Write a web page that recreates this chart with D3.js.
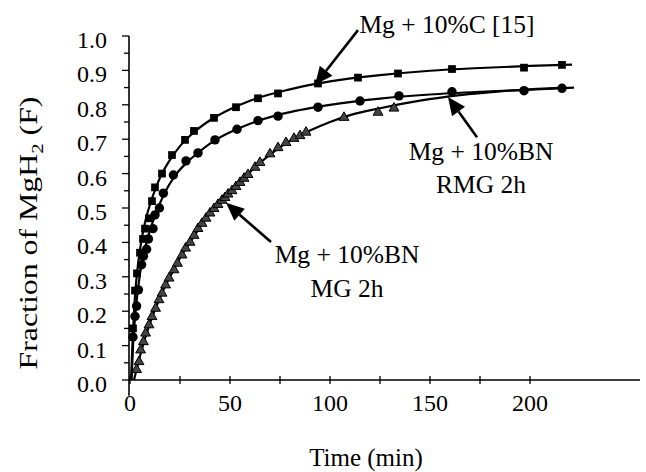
<!DOCTYPE html>
<html><head><meta charset="utf-8">
<script src="https://cdn.jsdelivr.net/npm/d3@7"></script>
<style>html,body{margin:0;padding:0;background:#fff}svg{display:block}</style>
</head><body>
<svg id="chart" width="646" height="472"></svg>
<script>
// ---------- data ----------
// Mg + 10%C [15]  (squares)
const cTime = [1.5, 2.5, 3.5, 5, 6.5, 7.5, 9.5, 11, 12.5, 16, 21, 27.5, 32, 42, 53, 64, 74, 94, 114, 134, 161, 197, 216];
const cFrac = [0.15, 0.26, 0.31, 0.37, 0.41, 0.44, 0.47, 0.52, 0.56, 0.60, 0.654, 0.698, 0.724, 0.762, 0.793, 0.819, 0.833, 0.862, 0.879, 0.891, 0.904, 0.908, 0.916];
const cFitTime = [0.5, 1, 2, 3, 4, 6, 8, 10, 13, 16, 20, 25, 30, 40, 50, 60, 80, 100, 125, 150, 175, 200, 221];
const cFitFrac = [0.0, 0.07, 0.2, 0.28, 0.335, 0.415, 0.47, 0.51, 0.56, 0.60, 0.64, 0.68, 0.71, 0.755, 0.787, 0.812, 0.845, 0.868, 0.886, 0.899, 0.907, 0.913, 0.917];

// Mg + 10%BN RMG 2h  (circles)
const rTime = [1.5, 2.5, 3.3, 4.2, 5.8, 6.7, 8.3, 9.2, 11.5, 12.5, 14.7, 16.7, 21.7, 28, 34, 42.5, 53.5, 64, 74, 94, 115, 134.5, 161, 197, 216];
const rFrac = [0.125, 0.185, 0.215, 0.262, 0.335, 0.36, 0.38, 0.41, 0.44, 0.48, 0.50, 0.543, 0.596, 0.637, 0.66, 0.698, 0.729, 0.754, 0.767, 0.793, 0.811, 0.826, 0.838, 0.841, 0.848];
const rFitTime = [0.8, 1.5, 2.5, 4, 6, 8, 10, 13, 17, 22, 28, 35, 42, 50, 60, 75, 100, 125, 150, 175, 200, 222];
const rFitFrac = [0.0, 0.1, 0.18, 0.265, 0.345, 0.395, 0.435, 0.485, 0.54, 0.59, 0.63, 0.665, 0.695, 0.72, 0.745, 0.772, 0.8, 0.818, 0.83, 0.838, 0.844, 0.85];

// Mg + 10%BN MG 2h  (triangles)
const mTime = [3.3, 4.5, 5.3, 6.7, 7.8, 9.5, 11, 12.8, 14.5, 16, 17.8, 19.5, 22, 23.7, 26, 27.8, 30, 32, 34, 36, 38, 40, 42, 44, 46, 47.5, 49, 51, 53, 55, 57, 59, 62.5, 65, 70, 74, 78, 82, 85, 88, 107, 124, 132];
const mFrac = [0.03, 0.053, 0.087, 0.111, 0.136, 0.16, 0.184, 0.208, 0.233, 0.252, 0.276, 0.296, 0.32, 0.339, 0.363, 0.383, 0.40, 0.42, 0.44, 0.455, 0.47, 0.485, 0.498, 0.51, 0.522, 0.53, 0.54, 0.55, 0.562, 0.574, 0.586, 0.597, 0.618, 0.632, 0.657, 0.675, 0.69, 0.702, 0.71, 0.72, 0.763, 0.778, 0.79];
const mFitTime = [2, 5, 10, 15, 20, 25, 30, 40, 50, 60, 70, 80, 90, 100, 110, 125, 145, 165, 185, 200, 218];
const mFitFrac = [0.0, 0.07, 0.165, 0.24, 0.3, 0.355, 0.40, 0.485, 0.55, 0.605, 0.655, 0.695, 0.725, 0.75, 0.77, 0.79, 0.812, 0.828, 0.839, 0.845, 0.85];

// ticks
const xTickValues = [0, 50, 100, 150, 200];
const xTickLabels = ["0", "50", "100", "150", "200"];
const xMinorTicks = [25, 75, 125, 175];
const yTickValues = [0, 0.1, 0.2, 0.3, 0.4, 0.5, 0.6, 0.7, 0.8, 0.9, 1.0];
const yTickLabels = ["0.0", "0.1", "0.2", "0.3", "0.4", "0.5", "0.6", "0.7", "0.8", "0.9", "1.0"];
const yMinorTicks = [0.05, 0.15, 0.25, 0.35, 0.45, 0.55, 0.65, 0.75, 0.85, 0.95];

// labels
const labelC = ["Mg + 10%C [15]"];
const labelR = ["Mg + 10%BN", "RMG 2h"];
const labelM = ["Mg + 10%BN", "MG 2h"];

// ---------- drawing ----------
const FONT = "'Liberation Serif', 'Times New Roman', serif";
const svg = d3.select("#chart");
svg.append("rect").attr("width", 646).attr("height", 472).attr("fill", "#fff");

const x = d3.scaleLinear().domain([0, 250]).range([130, 630]);
const y = d3.scaleLinear().domain([0, 1]).range([380, 36]);

// axes
const ax = svg.append("g").attr("stroke", "#000").attr("fill", "none");
ax.append("line").attr("x1", x(0) - 1).attr("x2", x(255)).attr("y1", y(0)).attr("y2", y(0)).attr("stroke-width", 1.6);
ax.append("line").attr("x1", x(0) - 1).attr("x2", x(0) - 1).attr("y1", y(1)).attr("y2", y(-0.046)).attr("stroke-width", 1.6);

// x ticks (crossing)
ax.selectAll(".xt").data(xTickValues.concat(xMinorTicks)).join("line")
  .attr("x1", d => x(d)).attr("x2", d => x(d))
  .attr("y1", y(0) - 4).attr("y2", y(0) + 4).attr("stroke-width", 1.3);
// y ticks (outward)
ax.selectAll(".ytM").data(yTickValues).join("line")
  .attr("x1", x(0) - 8).attr("x2", x(0) - 1)
  .attr("y1", d => y(d)).attr("y2", d => y(d)).attr("stroke-width", 1.3);
ax.selectAll(".ytm").data(yMinorTicks).join("line")
  .attr("x1", x(0) - 6).attr("x2", x(0) - 1)
  .attr("y1", d => y(d)).attr("y2", d => y(d)).attr("stroke-width", 1.3);

// tick labels
svg.append("g").selectAll("text").data(xTickValues).join("text")
  .attr("x", d => x(d)).attr("y", y(0) + 31)
  .attr("text-anchor", "middle").attr("font-family", FONT).attr("font-size", 24)
  .text((d, i) => xTickLabels[i]);
svg.append("g").selectAll("text").data(yTickValues).join("text")
  .attr("x", 107).attr("y", d => y(d) + 4)
  .attr("text-anchor", "end").attr("dominant-baseline", "central")
  .attr("font-family", FONT).attr("font-size", 24)
  .text((d, i) => yTickLabels[i]);

// axis titles
svg.append("text").attr("x", 366).attr("y", 466).attr("text-anchor", "middle")
  .attr("font-family", FONT).attr("font-size", 25).text("Time (min)");

const yt = svg.append("g").attr("transform", "translate(37,233) rotate(-90)");
const ytText = yt.append("text").attr("text-anchor", "middle")
  .attr("font-family", FONT).attr("font-size", 26);
ytText.append("tspan").text("Fraction of MgH");
ytText.append("tspan").attr("font-size", 17).attr("dy", 6).text("2");
ytText.append("tspan").attr("dy", -6).text(" (F)");
const w = ytText.node().getComputedTextLength();
ytText.attr("transform", `scale(${273 / w},1)`);

// fit curves
const line = d3.line().x(d => x(d[0])).y(d => y(d[1])).curve(d3.curveMonotoneX);
const fits = [[cFitTime, cFitFrac], [rFitTime, rFitFrac], [mFitTime, mFitFrac]];
fits.forEach(([t, f]) => {
  svg.append("path").datum(t.map((v, i) => [v, f[i]]))
    .attr("d", line).attr("fill", "none").attr("stroke", "#000").attr("stroke-width", 2.2);
});

// markers
const sq = d3.symbol().type(d3.symbolSquare).size(60);
const ci = d3.symbol().type(d3.symbolCircle).size(70);
const tr = d3.symbol().type(d3.symbolTriangle).size(42);
svg.append("g").selectAll("path").data(mTime.map((t, i) => [t, mFrac[i]])).join("path")
  .attr("d", tr).attr("transform", d => `translate(${x(d[0])},${y(d[1])})`)
  .attr("fill", "#444").attr("stroke", "#000").attr("stroke-width", 1);
svg.append("g").selectAll("path").data(rTime.map((t, i) => [t, rFrac[i]])).join("path")
  .attr("d", ci).attr("transform", d => `translate(${x(d[0])},${y(d[1])})`)
  .attr("fill", "#000");
svg.append("g").selectAll("path").data(cTime.map((t, i) => [t, cFrac[i]])).join("path")
  .attr("d", sq).attr("transform", d => `translate(${x(d[0])},${y(d[1])})`)
  .attr("fill", "#000");

// annotations: arrows
function arrow(t0, f0, t1, f1) {
  const x0 = x(t0), y0 = y(f0), x1 = x(t1), y1 = y(f1);
  const ang = Math.atan2(y1 - y0, x1 - x0);
  const L = 18, W = 8;
  const bx = x1 - L * Math.cos(ang), by = y1 - L * Math.sin(ang);
  svg.append("line").attr("x1", x0).attr("y1", y0).attr("x2", bx).attr("y2", by)
    .attr("stroke", "#000").attr("stroke-width", 2.6);
  const px = -Math.sin(ang) * W, py = Math.cos(ang) * W;
  svg.append("path").attr("d", `M${x1},${y1}L${bx + px},${by + py}L${bx - px},${by - py}Z`).attr("fill", "#000");
}
arrow(114, 1.017, 92.5, 0.858);
arrow(173.5, 0.706, 159, 0.823);
arrow(70.5, 0.401, 48, 0.515);

// annotation text
function label(lines, cx, y0, dy) {
  lines.forEach((s, i) => svg.append("text").attr("x", cx).attr("y", y0 + i * dy)
    .attr("text-anchor", "middle").attr("font-family", FONT).attr("font-size", 25.5).text(s));
}
label(labelC, 447, 33, 0);
label(labelR, 481, 160, 33);
label(labelM, 347, 263, 34);
</script>
</body></html>
